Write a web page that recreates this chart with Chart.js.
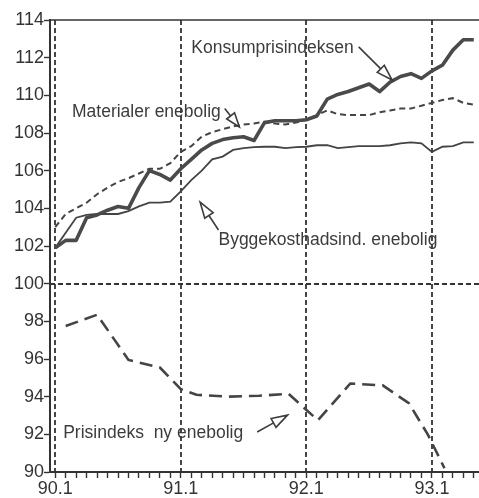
<!DOCTYPE html>
<html>
<head>
<meta charset="utf-8">
<script src="https://cdn.jsdelivr.net/npm/chart.js@4.4.1/dist/chart.umd.min.js"></script>
<style>
html,body{margin:0;padding:0;background:#fff;}
#wrap{width:479px;height:498px;position:relative;}
</style>
</head>
<body>
<div id="wrap"><canvas id="c" width="479" height="498"></canvas></div>
<script>
// Month index: 0 = 90.1, 12 = 91.1, 24 = 92.1, 36 = 93.1
const months = [0,1,2,3,4,5,6,7,8,9,10,11,12,13,14,15,16,17,18,19,20,21,22,23,24,25,26,27,28,29,30,31,32,33,34,35,36,37,38,39,40];
const tickMonths = [0,12,24,36];
const tickLabels = ['90.1','91.1','92.1','93.1'];

const konsum = [101.9,102.3,102.3,103.5,103.65,103.9,104.1,104.0,105.1,106.0,105.8,105.5,106.1,106.6,107.1,107.45,107.65,107.75,107.8,107.6,108.55,108.65,108.65,108.65,108.7,108.9,109.8,110.05,110.2,110.4,110.6,110.2,110.7,111.0,111.15,110.9,111.3,111.6,112.4,112.95,112.95];
const materialer = [103.0,103.7,104.0,104.3,104.75,105.1,105.4,105.6,105.85,106.1,106.1,106.4,107.0,107.3,107.8,108.05,108.2,108.35,108.45,108.5,108.6,108.5,108.45,108.55,108.7,108.95,109.2,109.0,108.95,108.95,108.95,109.1,109.2,109.3,109.3,109.45,109.6,109.75,109.85,109.6,109.5];
const bygg = [101.9,102.7,103.5,103.65,103.7,103.7,103.7,103.85,104.1,104.3,104.3,104.35,104.9,105.5,106.0,106.6,106.75,107.1,107.2,107.25,107.27,107.27,107.2,107.25,107.27,107.35,107.35,107.2,107.25,107.3,107.3,107.3,107.35,107.45,107.5,107.45,107.0,107.27,107.3,107.5,107.5];
const prisMonths = [1,4,7,10,12,13.5,16.5,19.5,22.3,25.1,28.2,31.3,33.8,35.6,37.2];
const prisValues = [97.75,98.35,95.95,95.55,94.4,94.1,94.0,94.05,94.15,92.75,94.7,94.6,93.65,92.0,90.2];

const seriesNames = ['Konsumprisindeksen','Materialer enebolig','Byggekosthadsind. enebolig','Prisindeks  ny enebolig'];

const toXY = (xs, ys) => xs.map((x, i) => ({x: x, y: ys[i]}));

const INK = '#3c3c3c';

// annotation placement, in data units (month, index value)
const notes = [
  {text: seriesNames[0], at: [13.0, 112.5], tail: [29.0, 112.57], tip: [32.2, 110.81]},
  {text: seriesNames[1], at: [1.6, 109.1], tail: [16.2, 109.3], tip: [17.6, 108.32]},
  {text: seriesNames[2], at: [15.6, 102.32], tail: [15.6, 102.85], tip: [13.85, 104.33]},
  {text: seriesNames[3], at: [0.76, 92.07], tail: [19.3, 92.12], tip: [22.2, 93.02]}
];

const decorPlugin = {
  id: 'decor',
  beforeDraw(chart) {
    const ctx = chart.ctx;
    ctx.save();
    ctx.fillStyle = '#ffffff';
    ctx.fillRect(0, 0, chart.width, chart.height);
    ctx.restore();
  },
  beforeDatasetsDraw(chart) {
    const ctx = chart.ctx, a = chart.chartArea;
    const xs = chart.scales.x, ys = chart.scales.y;
    ctx.save();
    ctx.strokeStyle = '#333';
    ctx.lineWidth = 1.8;
    ctx.setLineDash([5, 3]);
    tickMonths.forEach(m => {
      const px = Math.round(xs.getPixelForValue(m));
      ctx.beginPath();
      ctx.moveTo(px, a.top);
      ctx.lineTo(px, a.bottom);
      ctx.stroke();
    });
    const py = Math.round(ys.getPixelForValue(100));
    ctx.beginPath();
    ctx.moveTo(a.left, py);
    ctx.lineTo(a.right, py);
    ctx.stroke();
    ctx.setLineDash([]);
    ctx.lineWidth = 1.5;
    ctx.beginPath();
    ctx.moveTo(a.left, a.top);
    ctx.lineTo(a.right, a.top);
    ctx.stroke();
    ctx.restore();
  },
  afterDatasetsDraw(chart) {
    const ctx = chart.ctx;
    const xs = chart.scales.x, ys = chart.scales.y;
    const P = p => [xs.getPixelForValue(p[0]), ys.getPixelForValue(p[1])];
    ctx.save();
    ctx.font = '17.5px "Liberation Sans", Arial, sans-serif';
    ctx.textAlign = 'left';
    ctx.textBaseline = 'middle';
    notes.forEach(n => {
      const [tx, ty] = P(n.at);
      ctx.fillStyle = INK;
      ctx.fillText(n.text, tx, ty);
      const [x0, y0] = P(n.tail);
      const [x1, y1] = P(n.tip);
      const dx = x1 - x0, dy = y1 - y0;
      const len = Math.hypot(dx, dy);
      const ux = dx / len, uy = dy / len;
      const hl = Math.min(16, len * 0.6), hw = 5;
      const bx = x1 - ux * hl, by = y1 - uy * hl;
      ctx.strokeStyle = INK;
      ctx.lineWidth = 1.6;
      ctx.beginPath();
      ctx.moveTo(x0, y0);
      ctx.lineTo(bx, by);
      ctx.stroke();
      ctx.beginPath();
      ctx.moveTo(x1, y1);
      ctx.lineTo(bx - uy * hw, by + ux * hw);
      ctx.lineTo(bx + uy * hw, by - ux * hw);
      ctx.closePath();
      ctx.fillStyle = '#ffffff';
      ctx.fill();
      ctx.stroke();
    });
    ctx.restore();
  }
};

Chart.defaults.font.family = '"Liberation Sans", Arial, sans-serif';
Chart.defaults.color = '#333';

new Chart(document.getElementById('c'), {
  type: 'line',
  data: {
    datasets: [
      {label: seriesNames[0], data: toXY(months, konsum), borderColor: '#4a4a4a', borderWidth: 3.6, pointRadius: 0, tension: 0, borderJoinStyle: 'round'},
      {label: seriesNames[1], data: toXY(months, materialer), borderColor: '#444', borderWidth: 2, borderDash: [6, 4], pointRadius: 0, tension: 0},
      {label: seriesNames[2], data: toXY(months, bygg), borderColor: '#444', borderWidth: 1.8, pointRadius: 0, tension: 0},
      {label: seriesNames[3], data: toXY(prisMonths, prisValues), borderColor: '#444', borderWidth: 2.6, borderDash: [13, 7], pointRadius: 0, tension: 0}
    ]
  },
  options: {
    responsive: false,
    animation: false,
    events: [],
    layout: {padding: {top: 20, right: 0, left: 0, bottom: 0}},
    plugins: {legend: {display: false}, tooltip: {enabled: false}},
    scales: {
      x: {
        type: 'linear',
        min: -0.5,
        max: 40.5,
        afterBuildTicks: s => { s.ticks = months.map(v => ({value: v})); },
        ticks: {
          autoSkip: false,
          maxRotation: 0,
          padding: 0,
          font: {size: 18},
          color: '#333',
          callback: v => {
            const i = tickMonths.indexOf(v);
            return i >= 0 ? tickLabels[i] : '';
          }
        },
        grid: {drawOnChartArea: false, drawTicks: true, tickLength: 6, tickColor: '#333', tickWidth: 1.4},
        border: {display: true, color: '#333', width: 2},
        afterFit: s => { s.height = 26; }
      },
      y: {
        min: 90,
        max: 114,
        ticks: {stepSize: 2, padding: 0, font: {size: 18}, color: '#333'},
        grid: {drawOnChartArea: false, drawTicks: true, tickLength: 6, tickColor: '#333', tickWidth: 1.4},
        border: {display: true, color: '#333', width: 2},
        afterFit: s => { s.width = 50; }
      }
    }
  },
  plugins: [decorPlugin]
});
</script>
</body>
</html>
